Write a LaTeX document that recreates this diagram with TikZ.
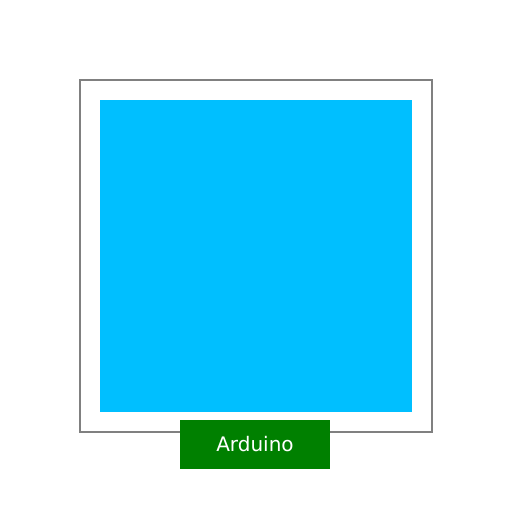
\documentclass[tikz,border=0pt]{standalone}
\usepackage{fontspec}
\setmainfont{DejaVu Sans}
\definecolor{skyb}{RGB}{0,191,255}
\definecolor{ardgreen}{RGB}{0,128,0}
\definecolor{framegray}{RGB}{128,128,128}
\begin{document}
\begin{tikzpicture}[x=1pt,y=-1pt,
  frame/.style={draw=framegray,line width=2pt,fill=none},
  panel/.style={fill=skyb,draw=none},
  label/.style={fill=ardgreen,text=white,inner sep=0pt,minimum width=150pt,minimum height=49pt,font=\fontsize{20}{24}\selectfont}]
\useasboundingbox (0,0) rectangle (512,512);
\draw[frame] (80,80) rectangle (432,432);
\fill[panel] (100,100) rectangle (412,411.5);
\node[label] (ard) at (255,444.5) {\raisebox{1pt}{Arduino}};
\end{tikzpicture}
\end{document}
